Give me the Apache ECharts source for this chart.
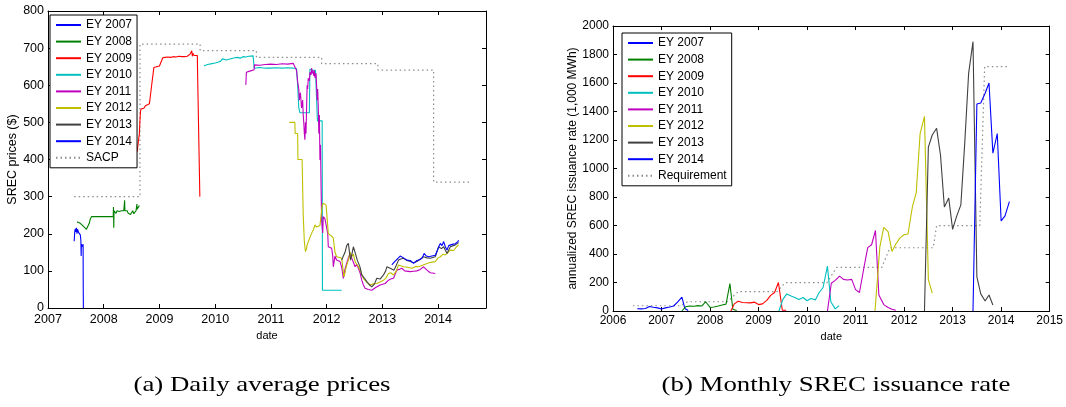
<!DOCTYPE html>
<html>
<head>
<meta charset="utf-8">
<script src="https://cdn.jsdelivr.net/npm/echarts@6/dist/echarts.min.js"></script>
<style>
  html, body { margin: 0; padding: 0; background: #fff; }
  #chart { width: 1066px; height: 407px; }
</style>
</head>
<body>
<div id="chart"></div>
<script>
// ---------- labels ----------
const energyYears = ['EY 2007', 'EY 2008', 'EY 2009', 'EY 2010', 'EY 2011', 'EY 2012', 'EY 2013', 'EY 2014'];
const priceRefName = 'SACP';
const rateRefName = 'Requirement';
const captionA = '(a) Daily average prices';
const captionB = '(b) Monthly SREC issuance rate';
const priceAxisName = 'SREC prices ($)';
const rateAxisName = 'annualized SREC issuance rate (1,000 MWh)';
const dateAxisName = 'date';

// ---------- panel (a): daily average prices, [decimal year, $] ----------
const priceEY2007 = [[2007.47,180],[2007.48,206],[2007.49,213],[2007.50,205],[2007.51,216],[2007.52,200],[2007.53,212],[2007.54,217],[2007.55,203],[2007.56,199],[2007.57,200],[2007.58,197],[2007.59,182],[2007.595,140],[2007.60,172],[2007.61,168],[2007.62,175],[2007.625,165],[2007.63,172],[2007.632,60],[2007.635,0]];
const priceEY2008 = [[2007.52,232],[2007.54,236],[2007.57,229],[2007.61,224],[2007.65,218],[2007.69,212],[2007.72,209],[2007.74,228],[2007.76,240],[2007.78,246],[2007.90,246],[2008.00,246],[2008.10,246],[2008.17,246],[2008.175,272],[2008.18,216],[2008.185,262],[2008.20,258],[2008.22,255],[2008.24,262],[2008.26,257],[2008.28,260],[2008.30,256],[2008.32,262],[2008.34,266],[2008.36,262],[2008.375,290],[2008.38,262],[2008.40,258],[2008.42,262],[2008.44,255],[2008.46,260],[2008.48,252],[2008.50,257],[2008.52,262],[2008.54,254],[2008.56,258],[2008.58,262],[2008.595,280],[2008.60,266],[2008.62,270],[2008.64,276]];
const priceEY2009 = [[2008.60,421],[2008.61,425],[2008.62,446],[2008.63,448],[2008.64,470],[2008.65,505],[2008.66,530],[2008.67,536],[2008.69,541],[2008.72,538],[2008.75,545],[2008.78,548],[2008.82,550],[2008.85,552],[2008.86,600],[2008.88,603],[2008.89,605],[2008.90,648],[2008.95,650],[2009.00,652],[2009.03,655],[2009.06,674],[2009.10,675],[2009.15,676],[2009.20,675],[2009.25,677],[2009.30,676],[2009.35,678],[2009.40,677],[2009.45,677],[2009.48,681],[2009.50,678],[2009.53,676],[2009.55,684],[2009.57,680],[2009.58,693],[2009.59,678],[2009.60,686],[2009.62,680],[2009.65,681],[2009.68,680],[2009.685,628],[2009.72,625],[2009.725,300]];
const priceEY2010 = [[2009.80,652],[2009.85,655],[2009.90,657],[2010.00,660],[2010.05,662],[2010.10,665],[2010.13,671],[2010.15,666],[2010.20,668],[2010.25,670],[2010.30,672],[2010.35,674],[2010.40,675],[2010.45,673],[2010.50,677],[2010.55,676],[2010.60,678],[2010.68,679],[2010.70,646],[2010.80,648],[2010.90,646],[2011.00,646],[2011.10,647],[2011.20,646],[2011.30,647],[2011.40,646],[2011.46,645],[2011.48,600],[2011.50,540],[2011.52,526],[2011.60,526],[2011.69,526],[2011.70,643],[2011.75,641],[2011.80,640],[2011.83,640],[2011.835,504],[2011.92,504],[2011.925,48],[2012.00,48],[2012.10,48],[2012.20,48],[2012.27,48]];
const priceEY2011 = [[2010.55,601],[2010.56,635],[2010.58,637],[2010.62,638],[2010.65,640],[2010.70,642],[2010.705,655],[2010.80,654],[2010.90,656],[2011.00,657],[2011.10,656],[2011.20,658],[2011.30,657],[2011.40,659],[2011.43,655],[2011.46,640],[2011.48,610],[2011.50,590],[2011.51,560],[2011.53,580],[2011.55,539],[2011.57,560],[2011.58,520],[2011.59,500],[2011.60,470],[2011.61,453],[2011.62,500],[2011.63,470],[2011.65,600],[2011.66,590],[2011.67,619],[2011.69,612],[2011.70,635],[2011.72,628],[2011.73,646],[2011.74,632],[2011.75,640],[2011.77,625],[2011.78,640],[2011.79,620],[2011.81,632],[2011.82,600],[2011.83,560],[2011.84,590],[2011.85,542],[2011.86,470],[2011.87,520],[2011.88,399],[2011.89,440],[2011.90,330],[2011.91,237],[2011.92,220],[2011.93,202],[2011.94,246],[2011.97,240],[2012.00,242],[2012.02,200],[2012.03,165],[2012.06,170],[2012.09,161],[2012.11,140],[2012.12,111],[2012.15,140],[2012.18,129],[2012.21,126],[2012.24,125],[2012.27,110],[2012.30,80],[2012.33,105],[2012.36,120],[2012.39,135],[2012.42,147],[2012.45,135],[2012.47,130],[2012.51,111],[2012.54,118],[2012.57,120],[2012.60,95],[2012.63,75],[2012.66,62],[2012.69,53],[2012.75,50],[2012.81,48],[2012.88,55],[2012.96,62],[2013.05,66],[2013.11,75],[2013.15,78],[2013.20,80],[2013.26,102],[2013.30,104],[2013.35,107],[2013.40,100],[2013.50,98],[2013.56,99],[2013.62,100],[2013.68,104],[2013.74,111],[2013.77,108],[2013.80,102],[2013.86,95],[2013.95,93]];
const priceEY2012 = [[2011.33,500],[2011.43,500],[2011.435,470],[2011.48,470],[2011.485,400],[2011.56,400],[2011.58,250],[2011.60,179],[2011.62,152],[2011.64,160],[2011.65,170],[2011.67,174],[2011.70,190],[2011.73,201],[2011.76,210],[2011.78,218],[2011.79,224],[2011.82,218],[2011.85,215],[2011.88,222],[2011.90,219],[2011.92,275],[2011.94,282],[2011.99,277],[2012.01,240],[2012.03,200],[2012.06,197],[2012.08,195],[2012.12,188],[2012.15,150],[2012.18,138],[2012.23,136],[2012.27,134],[2012.29,110],[2012.31,84],[2012.33,95],[2012.35,110],[2012.39,129],[2012.42,150],[2012.45,138],[2012.48,145],[2012.51,125],[2012.54,118],[2012.57,111],[2012.62,95],[2012.66,80],[2012.72,70],[2012.78,62],[2012.84,65],[2012.90,66],[2012.96,70],[2013.02,75],[2013.06,80],[2013.11,93],[2013.15,95],[2013.20,89],[2013.25,100],[2013.29,116],[2013.33,114],[2013.38,111],[2013.45,110],[2013.53,107],[2013.60,112],[2013.65,111],[2013.72,115],[2013.80,120],[2013.87,123],[2013.95,125],[2014.00,135],[2014.04,138],[2014.09,145],[2014.13,143],[2014.18,150],[2014.22,156],[2014.28,155],[2014.33,165],[2014.37,170]];
const priceEY2013 = [[2012.27,129],[2012.30,140],[2012.33,150],[2012.36,168],[2012.39,174],[2012.41,150],[2012.43,129],[2012.46,150],[2012.48,165],[2012.51,150],[2012.55,129],[2012.60,110],[2012.63,89],[2012.68,80],[2012.72,71],[2012.76,64],[2012.81,57],[2012.86,65],[2012.90,80],[2012.96,78],[2013.02,89],[2013.06,100],[2013.08,111],[2013.14,107],[2013.21,102],[2013.25,115],[2013.29,129],[2013.33,132],[2013.38,134],[2013.44,128],[2013.50,125],[2013.56,122],[2013.62,125],[2013.68,132],[2013.74,138],[2013.80,135],[2013.86,134],[2013.95,138],[2014.01,165],[2014.06,160],[2014.10,165],[2014.16,147],[2014.22,165],[2014.31,170],[2014.37,176]];
const priceEY2014 = [[2013.17,116],[2013.22,125],[2013.27,132],[2013.32,140],[2013.35,138],[2013.38,135],[2013.44,129],[2013.50,128],[2013.53,124],[2013.56,120],[2013.62,128],[2013.67,130],[2013.71,134],[2013.73,140],[2013.75,147],[2013.79,140],[2013.83,138],[2013.89,140],[2013.95,142],[2014.00,160],[2014.02,168],[2014.04,174],[2014.07,168],[2014.10,179],[2014.13,165],[2014.16,156],[2014.19,168],[2014.22,170],[2014.27,172],[2014.31,173],[2014.35,178],[2014.37,182]];
const sacp = [[2007.47,300],[2008.65,300],[2008.65,711],[2009.73,711],[2009.73,693],[2010.74,693],[2010.74,675],[2011.91,675],[2011.91,658],[2012.92,658],[2012.92,641],[2013.92,641],[2013.92,339],[2014.56,339]];

// ---------- panel (b): monthly issuance rate, [decimal year, 1,000 MWh] ----------
const rateEY2007 = [[2006.50,16],[2006.58,15],[2006.67,18],[2006.75,32],[2006.83,26],[2006.92,22],[2007.00,14],[2007.08,22],[2007.17,28],[2007.25,35],[2007.33,62],[2007.42,98],[2007.48,18],[2007.55,4]];
const rateEY2008 = [[2007.42,0],[2007.50,30],[2007.58,35],[2007.67,33],[2007.75,38],[2007.83,35],[2007.91,65],[2008.00,25],[2008.08,28],[2008.17,35],[2008.25,42],[2008.33,48],[2008.41,192],[2008.47,12],[2008.55,3]];
const rateEY2009 = [[2008.43,0],[2008.50,50],[2008.58,68],[2008.67,60],[2008.75,58],[2008.83,57],[2008.92,62],[2009.00,45],[2009.08,50],[2009.17,75],[2009.25,110],[2009.33,130],[2009.41,200],[2009.49,5],[2009.57,5]];
const rateEY2010 = [[2009.42,0],[2009.50,80],[2009.58,120],[2009.67,105],[2009.75,95],[2009.83,80],[2009.92,95],[2010.00,72],[2010.08,88],[2010.17,78],[2010.25,130],[2010.33,165],[2010.42,315],[2010.49,65],[2010.58,15],[2010.66,38]];
const rateEY2011 = [[2010.42,0],[2010.50,195],[2010.58,215],[2010.67,245],[2010.75,222],[2010.83,218],[2010.92,222],[2011.00,150],[2011.08,130],[2011.17,300],[2011.25,445],[2011.33,465],[2011.41,565],[2011.48,112],[2011.58,45],[2011.67,25],[2011.75,12],[2011.83,5]];
const rateEY2012 = [[2011.40,0],[2011.50,450],[2011.58,587],[2011.67,557],[2011.75,418],[2011.83,470],[2011.92,515],[2012.00,535],[2012.08,540],[2012.17,730],[2012.25,830],[2012.33,1245],[2012.42,1365],[2012.50,220],[2012.58,125]];
const rateEY2013 = [[2012.42,0],[2012.50,1150],[2012.58,1235],[2012.67,1282],[2012.75,1095],[2012.83,730],[2012.92,793],[2013.00,573],[2013.08,662],[2013.17,745],[2013.25,1178],[2013.33,1668],[2013.42,1890],[2013.50,240],[2013.58,120],[2013.67,70],[2013.75,112],[2013.83,42]];
const rateEY2014 = [[2013.42,0],[2013.50,1453],[2013.58,1460],[2013.67,1528],[2013.75,1600],[2013.83,1107],[2013.92,1245],[2014.00,632],[2014.08,667],[2014.17,767]];
const requirement = [[2006.41,37],[2007.37,37],[2007.54,65],[2008.36,65],[2008.58,136],[2009.38,136],[2009.55,199],[2010.41,199],[2010.61,306],[2011.54,306],[2011.71,444],[2012.60,444],[2012.67,599],[2013.56,599],[2013.66,1715],[2014.12,1715]];

const priceSets = [priceEY2007, priceEY2008, priceEY2009, priceEY2010, priceEY2011, priceEY2012, priceEY2013, priceEY2014];
const rateSets = [rateEY2007, rateEY2008, rateEY2009, rateEY2010, rateEY2011, rateEY2012, rateEY2013, rateEY2014];
const lineColors = ['#0000ff', '#008000', '#ff0000', '#00bfbf', '#bf00bf', '#bfbf00', '#404040', '#0000ff'];
const refColor = '#8c8c8c';

// ---------- option building ----------
const sans = 'Liberation Sans, Arial, sans-serif';
const black = { color: '#000', width: 1 };
const intLabel = v => (Math.abs(v - Math.round(v)) < 1e-6 ? String(Math.round(v)) : '');

function mainX(grid, min, max, fontSize, margin, nameGap) {
  return {
    gridIndex: grid, type: 'value', min: min, max: max, interval: 1, position: 'bottom',
    axisLine: { show: true, onZero: false, lineStyle: black },
    axisTick: { show: true, inside: true, length: 4, lineStyle: black },
    axisLabel: { show: true, formatter: intLabel, color: '#000', fontSize: fontSize, fontFamily: sans, margin: margin, showMaxLabel: true, showMinLabel: true, hideOverlap: false },
    splitLine: { show: false },
    name: dateAxisName, nameLocation: 'middle', nameGap: nameGap,
    nameTextStyle: { color: '#000', fontSize: 11, fontFamily: sans }
  };
}
function mirrorX(grid, min, max) {
  return {
    gridIndex: grid, type: 'value', min: min, max: max, interval: 1, position: 'top',
    axisLine: { show: true, onZero: false, lineStyle: black },
    axisTick: { show: true, inside: true, length: 4, lineStyle: black },
    axisLabel: { show: false }, splitLine: { show: false }
  };
}
function mainY(grid, max, interval, fontSize, name, nameGap, nameSize) {
  return {
    gridIndex: grid, type: 'value', min: 0, max: max, interval: interval, position: 'left',
    axisLine: { show: true, onZero: false, lineStyle: black },
    axisTick: { show: true, inside: true, length: 4, lineStyle: black },
    axisLabel: { show: true, formatter: v => String(v), color: '#000', fontSize: fontSize, fontFamily: sans, margin: 4 },
    splitLine: { show: false },
    name: name, nameLocation: 'middle', nameGap: nameGap,
    nameTextStyle: { color: '#000', fontSize: nameSize, fontFamily: sans }
  };
}
function mirrorY(grid, max, interval) {
  return {
    gridIndex: grid, type: 'value', min: 0, max: max, interval: interval, position: 'right',
    axisLine: { show: true, onZero: false, lineStyle: black },
    axisTick: { show: true, inside: true, length: 4, lineStyle: black },
    axisLabel: { show: false }, splitLine: { show: false }
  };
}

function lineSeries(name, data, color, xi, yi, dotted) {
  return {
    name: name, type: 'line', data: data, xAxisIndex: xi, yAxisIndex: yi,
    symbol: 'none', showSymbol: false, smooth: false, animation: false,
    lineStyle: { color: color, width: dotted ? 1.2 : 1.1, type: dotted ? [1.5, 3] : 'solid' },
    itemStyle: { color: color },
    z: dotted ? 1 : 2
  };
}

const series = [];
energyYears.forEach((n, i) => series.push(lineSeries(n, priceSets[i], lineColors[i], 0, 0, false)));
series.push(lineSeries(priceRefName, sacp, refColor, 0, 0, true));
energyYears.forEach((n, i) => series.push(lineSeries(n, rateSets[i], lineColors[i], 2, 2, false)));
series.push(lineSeries(rateRefName, requirement, refColor, 2, 2, true));

function legendBox(names, left, top) {
  return {
    data: names, orient: 'vertical', left: left, top: top,
    itemWidth: 25, itemHeight: 14, itemGap: 2.6,
    padding: [3, 5, 3, 5],
    backgroundColor: '#fff', borderColor: '#000', borderWidth: 1, borderRadius: 0,
    itemStyle: { opacity: 0 },
    textStyle: { color: '#000', fontSize: 12, fontFamily: sans, lineHeight: 14 },
    selectedMode: false, z: 10
  };
}

const option = {
  animation: false,
  backgroundColor: '#fff',
  grid: [
    { left: 48, top: 11, width: 438, height: 297, containLabel: false },
    { left: 613, top: 26, width: 439, height: 285, containLabel: false }
  ],
  xAxis: [
    mainX(0, 2007, 2014.86, 12.5, 5, 15),
    mirrorX(0, 2007, 2014.86),
    mainX(1, 2006, 2015, 12, 4, 18),
    mirrorX(1, 2006, 2015)
  ],
  yAxis: [
    mainY(0, 800, 100, 12.5, priceAxisName, 27, 12.5),
    mirrorY(0, 800, 100),
    mainY(1, 2000, 200, 12, rateAxisName, 32, 12),
    mirrorY(1, 2000, 200)
  ],
  legend: [
    legendBox(energyYears.concat([priceRefName]), 50, 15),
    legendBox(energyYears.concat([rateRefName]), 622, 33)
  ],
  graphic: [
    { type: 'text', x: 262, y: 385, scaleX: 1.22, style: { text: captionA, x: 0, y: 0, align: 'center', verticalAlign: 'middle', font: '22px "Liberation Serif", serif', fill: '#000' } },
    { type: 'text', x: 836, y: 385, scaleX: 1.22, style: { text: captionB, x: 0, y: 0, align: 'center', verticalAlign: 'middle', font: '22px "Liberation Serif", serif', fill: '#000' } }
  ],
  series: series
};

const chart = echarts.init(document.getElementById('chart'), null, { renderer: 'canvas' });
chart.setOption(option);
</script>
</body>
</html>
